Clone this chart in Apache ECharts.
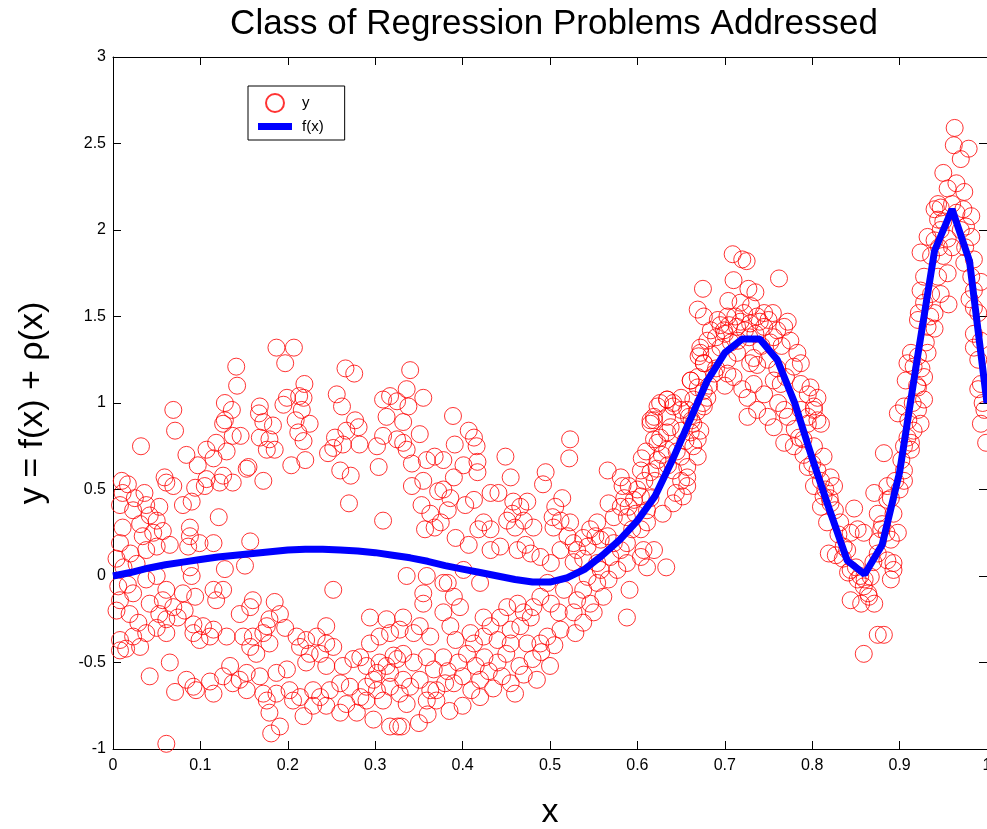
<!DOCTYPE html>
<html>
<head>
<meta charset="utf-8">
<title>Class of Regression Problems Addressed</title>
<script src="https://cdn.jsdelivr.net/npm/echarts@6/dist/echarts.min.js"></script>
<style>
  html, body { margin: 0; padding: 0; background: #fff; }
  #chart { width: 987px; height: 829px; }
</style>
</head>
<body>
<div id="chart"></div>
<script>
const fxX = [0, 0.02, 0.04, 0.06, 0.08, 0.1, 0.12, 0.14, 0.16, 0.18,
  0.2, 0.22, 0.24, 0.26, 0.28, 0.3, 0.32, 0.34, 0.36, 0.38,
  0.4, 0.42, 0.44, 0.46, 0.48, 0.5, 0.52, 0.54, 0.56, 0.58,
  0.6, 0.62, 0.64, 0.66, 0.68, 0.7, 0.72, 0.74, 0.76, 0.78,
  0.8, 0.82, 0.84, 0.86, 0.88, 0.9, 0.92, 0.94, 0.96, 0.98, 1.0];
const fxY = [0, 0.02, 0.045, 0.065, 0.08, 0.095, 0.11, 0.12, 0.13, 0.14,
  0.15, 0.155, 0.155, 0.15, 0.145, 0.135, 0.12, 0.105, 0.085, 0.06,
  0.04, 0.02, 0.0, -0.02, -0.035, -0.035, -0.01, 0.04, 0.12, 0.21,
  0.32, 0.46, 0.67, 0.9, 1.13, 1.29, 1.37, 1.37, 1.25, 1.0,
  0.68, 0.38, 0.09, 0.01, 0.18, 0.6, 1.25, 1.88, 2.12, 1.82, 1.0];

// noisy samples y, read region by region  [x, y]
const yLeftUpper = [
  [.187,1.32],[.207,1.32],[.197,1.23],[.141,1.21],[.142,1.10],[.266,1.20],[.276,1.17],[.340,1.19],
  [.069,.96],[.071,.84],[.032,.75],[.128,1.00],[.136,.96],[.128,.90],[.126,.88],[.146,.81],[.137,.81],
  [.168,.98],[.167,.94],[.172,.89],[.183,.87],[.168,.80],[.179,.79],[.176,.73],[.185,.73],[.195,.99],
  [.199,1.03],[.213,1.04],[.219,1.11],[.218,1.03],[.216,.96],[.209,.90],[.225,.88],[.212,.83],[.218,.78],
  [.204,.64],[.220,.67],[.256,1.05],[.262,.98],[.254,.80],[.267,.84],[.277,.90],[.281,.86],[.282,.76],
  [.263,.76],[.252,.74],[.246,.71],[.260,.61],[.272,.58],[.309,1.02],[.317,1.04],[.325,1.01],[.336,1.08],
  [.355,1.03],[.338,.98],[.313,.92],[.332,.89],[.309,.81],[.302,.75],[.304,.63],[.325,.79],[.332,.77],
  [.351,.82],[.336,.73],[.342,.65],[.359,.67],[.368,.69],[.355,.55],[.342,.52],[.372,.49],[.084,.70],
  [.097,.64],[.107,.73],[.118,.77],[.115,.68],[.130,.72],[.126,.58],[.137,.54],[.153,.62],[.155,.63],
  [.172,.55],[.059,.57],[.061,.54],[.069,.52],[.017,.53],[.036,.48],[.011,.48],[.094,.51],[.105,.52],
  [.107,.56],[.122,.54],[.010,.55],[.025,.45],
  [.008,.41],[.023,.38],[.038,.41],[.053,.40],[.042,.35],[.050,.32],[.031,.30],[.011,.28],[.008,.19],
  [.034,.23],[.046,.25],[.057,.26],[.065,.18],[.050,.17],[.038,.15],[.080,.41],[.090,.43],[.088,.28],
  [.088,.23],[.099,.19],[.086,.17],[.115,.19],[.121,.34],[.157,.20],[.151,.06],[.128,.04],[.270,.42],
  [.309,.32],[.353,.41],[.363,.36],[.368,.28],[.357,.27],[.004,.10],[.012,.05],[.020,.13],[.027,.07]
];
const yLeftLower = [
  [.006,-.06],[.017,-.05],[.008,-.14],[.023,-.10],[.038,-.02],[.050,.00],[.061,-.08],[.057,-.14],
  [.042,-.16],[.019,-.22],[.004,-.20],[.029,-.27],[.053,-.22],[.069,-.18],[.080,-.10],[.090,.00],
  [.094,-.12],[.082,-.20],[.074,-.24],[.061,-.25],[.050,-.30],[.038,-.33],[.023,-.35],[.008,-.37],
  [.015,-.42],[.031,-.41],[.008,-.43],[.061,-.33],[.092,-.28],[.103,-.29],[.115,-.31],[.092,-.33],
  [.111,-.35],[.099,-.37],[.130,-.35],[.126,-.08],[.115,-.08],[.118,-.14],[.145,-.22],[.157,-.18],
  [.160,-.14],[.185,-.15],[.176,-.29],[.160,-.35],[.157,-.41],[.172,-.33],[.149,-.35],[.164,-.45],
  [.179,-.39],[.197,-.30],[.210,-.35],[.221,-.37],[.233,-.35],[.244,-.29],[.244,-.39],[.252,-.41],
  [.237,-.45],[.225,-.45],[.214,-.41],[.221,-.50],[.244,-.52],[.263,-.52],[.275,-.48],[.294,-.24],
  [.313,-.25],[.332,-.24],[.351,-.29],[.363,-.35],[.344,-.33],[.328,-.31],[.317,-.33],[.305,-.35],
  [.294,-.39],[.283,-.47],[.290,-.52],[.302,-.56],[.313,-.52],[.325,-.48],[.332,-.45],[.321,-.46],
  [.305,-.50],[.298,-.60],[.317,-.56],[.332,-.60],[.344,-.50],[.359,-.47],[.367,-.54],[.351,-.60],
  [.340,-.64],[.328,-.68],[.317,-.64],[.302,-.66],[.290,-.64],[.283,-.70],[.271,-.64],[.260,-.62],
  [.248,-.66],[.237,-.70],[.229,-.66],[.214,-.70],[.202,-.66],[.187,-.68],[.176,-.72],[.172,-.68],
  [.199,-.54],[.187,-.56],[.168,-.58],[.153,-.56],[.145,-.60],[.137,-.62],[.134,-.52],[.126,-.58],
  [.115,-.68],[.095,-.66],[.092,-.64],[.084,-.60],[.071,-.67],[.042,-.58],[.065,-.50],[.111,-.61],
  [.153,-.66],[.179,-.79],[.181,-.91],[.191,-.87],[.206,-.72],[.218,-.81],[.229,-.75],[.244,-.75],
  [.260,-.79],[.267,-.74],[.279,-.79],[.298,-.83],[.317,-.87],[.326,-.87],[.290,-.72],[.309,-.72],
  [.336,-.74],[.359,-.72],[.363,-.66],[.370,-.66],[.061,-.97],[.252,-.08],[.088,.05],[.191,-.22],
  [.179,-.25],[.336,.00],[.359,.00],[.355,-.10],[.355,-.16],[.378,-.04]
];
const yMid = [
  [.389,.925],[.407,.84],[.413,.80],[.416,.75],[.391,.76],[.378,.67],[.401,.64],[.417,.66],[.417,.60],
  [.390,.57],[.378,.50],[.386,.45],[.403,.41],[.413,.44],[.383,.38],[.375,.31],[.392,.22],[.407,.18],
  [.449,.69],[.455,.57],[.432,.48],[.441,.48],[.458,.43],[.466,.40],[.474,.43],[.457,.36],[.451,.32],
  [.460,.28],[.470,.32],[.424,.31],[.418,.27],[.432,.27],[.443,.17],[.432,.15],[.463,.15],[.472,.18],
  [.481,.28],[.495,.60],[.492,.53],[.523,.79],[.522,.68],[.514,.45],[.506,.40],[.503,.34],[.512,.32],
  [.504,.28],[.523,.31],[.520,.23],[.527,.19],[.512,.15],[.501,.075],[.489,.11],[.478,.13],[.566,.61],
  [.581,.57],[.583,.52],[.590,.52],[.604,.61],[.596,.44],[.567,.42],[.581,.40],[.573,.34],[.588,.34],
  [.604,.46],[.611,.38],[.611,.31],[.604,.27],[.594,.27],[.554,.31],[.546,.27],[.538,.22],[.552,.23],
  [.531,.15],[.543,.17],[.558,.21],[.566,.23],[.573,.19],[.588,.19],[.607,.15],[.581,.15],[.527,.08],
  [.538,.10],[.554,.075],[.569,.11],[.588,.075],[.604,.11],[.577,.035],[.558,.035],[.543,-.005],
  [.554,-.04],[.567,-.02],[.538,-.08],[.561,-.12],[.531,-.14],[.546,-.16],[.550,-.21],[.527,-.21],
  [.538,-.27],[.529,-.33],[.588,-.24],[.591,-.08],[.633,.05],[.611,.05],[.619,.15],
  [.383,-.04],[.401,.035],[.390,-.12],[.420,-.04],[.378,-.21],[.397,-.18],[.386,-.29],[.409,-.33],
  [.392,-.37],[.424,-.24],[.432,-.29],[.443,-.24],[.451,-.18],[.455,-.31],[.440,-.37],[.463,-.16],
  [.470,-.21],[.466,-.29],[.478,-.24],[.481,-.18],[.489,-.12],[.497,-.04],[.501,-.16],[.510,-.21],
  [.516,-.08],[.512,-.31],[.489,-.39],[.497,-.35],[.474,-.39],[.455,-.39],[.413,-.39],[.424,-.35],
  [.378,-.47],[.383,-.55],[.390,-.62],[.395,-.50],[.400,-.58],[.405,-.45],[.410,-.66],[.415,-.52],
  [.420,-.60],[.425,-.47],[.430,-.55],[.435,-.65],[.440,-.50],[.445,-.58],[.450,-.45],[.455,-.62],
  [.460,-.68],[.465,-.52],[.470,-.57],[.480,-.48],[.485,-.60],[.490,-.44],[.500,-.52],[.505,-.40],
  [.370,-.72],[.385,-.78],[.400,-.75],[.420,-.70],[.380,-.62],[.360,-.80],[.350,-.85],[.330,-.87],
  [.600,.50],[.608,.55],[.615,.60],[.590,.40],[.585,.45],[.598,.36],[.615,.45],[.620,.55]
];
const yPeak1 = [
  [.629,.36],[.641,.42],[.644,.48],[.652,.46],[.657,.52],[.657,.57],[.650,.55],[.641,.61],[.657,.63],
  [.623,.67],[.634,.73],[.650,.69],[.669,.69],[.664,.75],[.623,.77],[.619,.79],[.626,.80],[.634,.83],
  [.638,.86],[.650,.84],[.661,.83],[.669,.79],[.672,.84],[.619,.92],[.626,1.00],[.634,1.02],[.641,.98],
  [.650,.96],[.664,1.02],[.676,1.07],[.661,1.13],[.669,1.15],[.676,1.23],[.672,1.29],[.615,.90],
  [.634,.92],[.659,.92],[.622,.62],[.628,.70],[.635,.64],[.645,.72],[.655,.78],[.662,.90],[.668,.95],
  [.675,1.00],[.682,1.10],[.605,.68],[.610,.72],
  [.709,1.86],[.720,1.83],[.725,1.82],[.710,1.71],[.675,1.66],[.762,1.72],[.727,1.66],[.735,1.64],
  [.704,1.59],[.718,1.58],[.730,1.56],[.669,1.54],[.676,1.50],[.692,1.48],[.703,1.50],[.722,1.52],
  [.737,1.50],[.755,1.52],[.768,1.44],[.772,1.47],[.684,1.42],[.699,1.42],[.714,1.44],[.729,1.46],
  [.745,1.44],[.756,1.38],[.672,1.32],[.680,1.36],[.670,1.27],[.676,1.23],[.695,1.32],[.703,1.25],
  [.714,1.29],[.733,1.26],[.737,1.22],[.729,1.23],[.749,1.25],[.775,1.36],[.783,1.29],[.787,1.23],
  [.779,1.21],[.661,1.13],[.669,1.09],[.688,1.17],[.703,1.17],[.710,1.15],[.733,1.11],[.756,1.13],
  [.764,1.11],[.787,1.11],[.795,1.05],[.798,1.09],[.650,1.03],[.634,1.02],[.623,.98],[.641,1.00],
  [.657,.96],[.680,1.03],[.676,.98],[.726,1.03],[.737,.96],[.726,.92],[.749,.92],[.761,1.00],
  [.768,.96],[.806,1.03],[.802,.96],[.795,.92],[.810,.88],[.619,.90],[.615,.88],[.664,.88],[.756,.86],
  [.700,1.40],[.705,1.45],[.712,1.50],[.718,1.47],[.723,1.42],[.728,1.38],[.735,1.40],[.740,1.47],
  [.745,1.52],[.750,1.48],[.690,1.38],[.695,1.45],[.707,1.35],[.715,1.36],[.742,1.33],[.752,1.35],
  [.760,1.42],[.765,1.33],[.685,1.28],[.690,1.20],[.760,1.20],[.770,1.15],[.745,1.05],[.720,1.08],
  [.700,1.10]
];
const yValley = [
  [.772,.92],[.787,.96],[.802,.98],[.806,.90],[.795,.88],[.768,.77],[.779,.75],[.790,.79],[.802,.75],
  [.813,.69],[.795,.63],[.806,.61],[.821,.57],[.825,.52],[.802,.52],[.813,.46],[.810,.40],[.821,.42],
  [.817,.31],[.832,.31],[.819,.13],[.827,.12],[.836,.17],[.848,.39],[.852,.27],[.844,.25],[.859,.25],
  [.844,.035],[.841,.02],[.852,-.02],[.859,-.06],[.844,-.14],[.856,-.16],[.871,-.16],[.864,-.10],
  [.867,-.005],[.859,-.45],[.875,-.34],[.882,-.34],[.871,.48],[.875,.36],[.886,.44],[.886,.52],
  [.879,.27],[.893,.36],[.898,.25],[.890,.21],[.875,.13],[.886,.09],[.893,.035],[.890,-.02],
  [.893,.075],[.882,.71],[.905,.55],[.905,.61],[.902,.67],[.913,.73],[.909,.80],[.916,.84],
  [.924,.88],[.898,.94],[.905,.98],[.921,.96],[.928,1.02],[.913,.77],[.999,.77],[.997,.96],[.993,.88],
  [.780,.85],[.785,.80],[.790,.70],[.800,.65],[.810,.55],[.815,.50],[.820,.45],[.826,.38],[.830,.24],
  [.835,.10],[.840,.15],[.850,.05],[.855,.00],[.860,-.02],[.865,-.12],[.870,.08],[.875,.20],[.880,.30],
  [.885,.25],[.890,.45],[.895,.55],[.900,.50],[.905,.75],[.910,.90],[.915,1.00],[.920,1.10],
  [.925,1.20],[.930,1.35],[.935,1.50]
];
const yPeak2 = [
  [.963,2.59],[.962,2.49],[.979,2.47],[.970,2.41],[.950,2.33],[.965,2.27],[.955,2.24],[.974,2.22],
  [.944,2.15],[.947,2.13],[.940,2.12],[.973,2.12],[.982,2.08],[.944,2.06],[.976,2.02],[.932,1.96],
  [.940,1.94],[.947,2.00],[.982,1.96],[.924,1.87],[.936,1.85],[.950,1.85],[.985,1.83],[.974,1.81],
  [.955,1.75],[.928,1.73],[.944,1.73],[.982,1.73],[.993,1.70],[.924,1.65],[.936,1.63],[.947,1.63],
  [.985,1.65],[.956,1.57],[.928,1.58],[.922,1.52],[.940,1.52],[.921,1.48],[.932,1.44],[.940,1.43],
  [.990,1.52],[.985,1.40],[.985,1.32],[.993,1.36],[.913,1.29],[.921,1.27],[.932,1.29],[.909,1.23],
  [.916,1.21],[.928,1.15],[.907,1.13],[.921,1.09],[.993,1.11],[.990,1.08],
  [.945,1.90],[.950,2.05],[.960,2.15],[.965,2.10],[.970,2.00],[.975,1.90],[.980,1.60],[.985,1.55],
  [.990,1.25],[.995,1.00],[.955,1.95],[.960,1.90]
];

const samples = [].concat(yLeftUpper, yLeftLower, yMid, yPeak1, yValley, yPeak2);
const curve = fxX.map((x, i) => [x, fxY[i]]);

const FONT = 'Liberation Sans, Arial, Helvetica, sans-serif';

const chart = echarts.init(document.getElementById('chart'), null, { renderer: 'canvas' });
chart.setOption({
  animation: false,
  backgroundColor: '#fff',
  title: {
    text: 'Class of Regression Problems Addressed',
    left: 549,
    top: 2,
    textAlign: 'center',
    textStyle: { fontFamily: FONT, fontSize: 35, fontWeight: 'normal', color: '#000' }
  },
  grid: { left: 113, right: 0, top: 57, bottom: 80, outerBoundsMode: 'none', containLabel: false },
  legend: {
    left: 248,
    top: 86,
    orient: 'vertical',
    backgroundColor: '#fff',
    borderColor: '#000',
    borderWidth: 1,
    borderRadius: 0,
    padding: [7, 21, 6, 10],
    itemWidth: 34,
    itemHeight: 18,
    itemGap: 6,
    textStyle: { fontFamily: FONT, fontSize: 15, color: '#000', padding: [0, 0, 0, 5] },
    data: [
      { name: 'y', icon: 'circle' },
      { name: 'f(x)', icon: 'path://M0,0L34,0L34,7L0,7Z' }
    ]
  },
  xAxis: [{
    type: 'value',
    min: 0,
    max: 1,
    interval: 0.1,
    name: 'x',
    nameLocation: 'middle',
    nameGap: 47,
    nameTextStyle: { fontFamily: FONT, fontSize: 34, color: '#000' },
    splitLine: { show: false },
    axisLine: { onZero: false, lineStyle: { color: '#000', width: 1 } },
    axisTick: { inside: true, length: 8, lineStyle: { color: '#000' } },
    axisLabel: { fontFamily: FONT, fontSize: 16, color: '#000', margin: 9 }
  }, {
    type: 'value',
    position: 'top',
    min: 0,
    max: 1,
    interval: 0.1,
    splitLine: { show: false },
    axisLine: { onZero: false, lineStyle: { color: '#000', width: 1 } },
    axisTick: { inside: true, length: 8, lineStyle: { color: '#000' } },
    axisLabel: { show: false }
  }],
  yAxis: [{
    type: 'value',
    min: -1,
    max: 3,
    interval: 0.5,
    name: 'y = f(x) + \u03c1(x)',
    nameLocation: 'middle',
    nameGap: 63,
    nameTextStyle: { fontFamily: FONT, fontSize: 34, color: '#000' },
    splitLine: { show: false },
    axisLine: { onZero: false, lineStyle: { color: '#000', width: 1 } },
    axisTick: { inside: true, length: 8, lineStyle: { color: '#000' } },
    axisLabel: { fontFamily: FONT, fontSize: 16, color: '#000', margin: 7 }
  }, {
    type: 'value',
    position: 'right',
    min: -1,
    max: 3,
    interval: 0.5,
    splitLine: { show: false },
    axisLine: { show: true, onZero: false, lineStyle: { color: '#000', width: 1 } },
    axisTick: { inside: true, length: 8, lineStyle: { color: '#000' } },
    axisLabel: { show: false }
  }],
  series: [{
    name: 'y',
    type: 'scatter',
    symbol: 'circle',
    symbolSize: 17,
    itemStyle: { color: 'rgba(255,255,255,0)', borderColor: '#ff0000', borderWidth: 1 },
    emphasis: { disabled: true },
    data: samples
  }, {
    name: 'f(x)',
    type: 'line',
    symbol: 'none',
    smooth: false,
    lineStyle: { color: '#0000ff', width: 7 },
    itemStyle: { color: '#0000ff' },
    emphasis: { disabled: true },
    data: curve
  }]
});
</script>
</body>
</html>
